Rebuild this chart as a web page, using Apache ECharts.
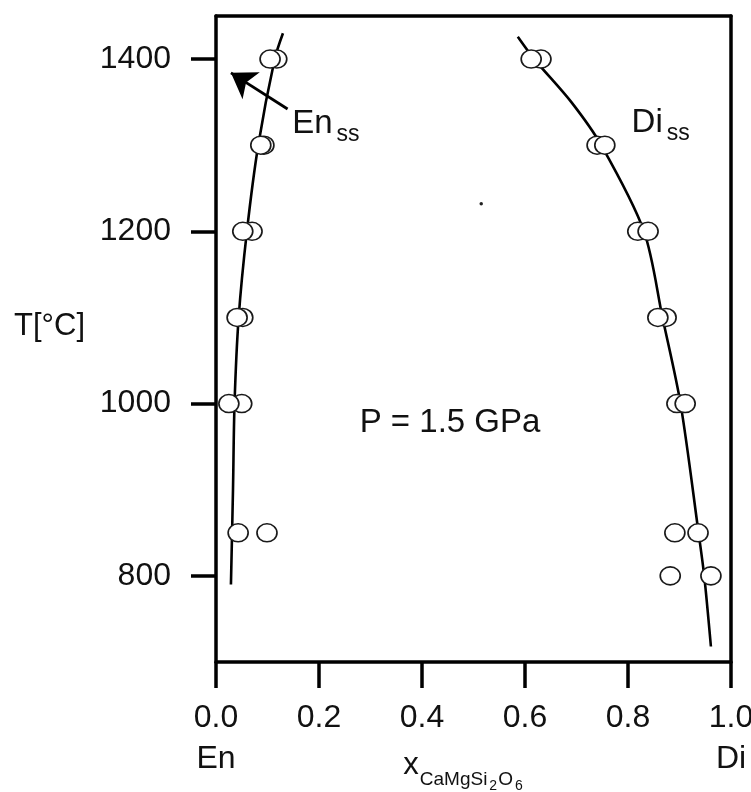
<!DOCTYPE html>
<html>
<head>
<meta charset="utf-8">
<title>En–Di solvus at 1.5 GPa</title>
<script src="https://cdn.jsdelivr.net/npm/echarts@6/dist/echarts.min.js"></script>
<style>
  html, body { margin: 0; padding: 0; background: #fff; }
  #chart { width: 751px; height: 792px; }
</style>
</head>
<body>
<div id="chart"></div>
<script>
// Axis ticks
const xTicks = [0, 0.2, 0.4, 0.6, 0.8, 1.0];
const yTicks = [800, 1000, 1200, 1400];

// Enstatite-rich pyroxene (Enss) compositions, two runs per temperature
const enTemps = [1400, 1300, 1200, 1100, 1000, 850];
const enXa = [0.118, 0.093, 0.070, 0.052, 0.050, 0.099];
const enXb = [0.105, 0.087, 0.052, 0.041, 0.025, 0.043];

// Diopside-rich pyroxene (Diss) compositions
const diTemps = [1400, 1300, 1200, 1100, 1000, 850, 800];
const diXa = [0.631, 0.740, 0.819, 0.874, 0.895, 0.891, 0.882];
const diXb = [0.612, 0.755, 0.839, 0.858, 0.911, 0.936, 0.961];

// Fitted solvus limbs
const enSolvusX = [0.130, 0.114, 0.082, 0.060, 0.044, 0.036, 0.033, 0.029];
const enSolvusT = [1430, 1400, 1300, 1200, 1100, 1000, 900, 790];
const diSolvusX = [0.586, 0.618, 0.690, 0.748, 0.831, 0.867, 0.902, 0.937, 0.948, 0.961];
const diSolvusT = [1426, 1400, 1350, 1300, 1200, 1100, 1000, 850, 800, 718];

// Small stray dot in the field
const strayDot = [[0.515, 1232]];

const FONT = '"Liberation Sans", Arial, Helvetica, sans-serif';
const INK = '#111';

const zip = (xs, ys) => xs.map((x, i) => [x, ys[i]]);

const enPoints = [];
enTemps.forEach((t, i) => { enPoints.push([enXa[i], t]); enPoints.push([enXb[i], t]); });
const diPoints = [];
diTemps.forEach((t, i) => { diPoints.push([diXa[i], t]); diPoints.push([diXb[i], t]); });

const circleStyle = { color: '#fff', borderColor: '#1a1a1a', borderWidth: 1.6, opacity: 1 };
const solvusStyle = { color: '#000', width: 2.6 };

const chart = echarts.init(document.getElementById('chart'), null, { renderer: 'canvas' });

chart.setOption({
  animation: false,
  backgroundColor: '#fff',
  grid: { left: 216, right: 20, top: 16, bottom: 130, outerBoundsMode: 'none', containLabel: false },
  xAxis: [
    {
      type: 'value', position: 'bottom', min: 0, max: 1, interval: 0.2,
      splitLine: { show: false },
      axisLine: { show: true, onZero: false, lineStyle: { color: '#000', width: 3.5 } },
      axisTick: { show: true, inside: false, length: 26, lineStyle: { color: '#000', width: 3.5 },
                  customValues: xTicks },
      axisLabel: {
        show: true, margin: 36, color: INK, fontFamily: FONT, fontSize: 32, lineHeight: 41,
        customValues: xTicks,
        formatter: v => {
          const s = v.toFixed(1);
          if (v === 0) return s + '\nEn';
          if (v === 1) return s + '\nDi';
          return s;
        }
      },
      name: '{x|x}{s|CaMgSi}{ss|2}{s|O}{ss|6}',
      nameLocation: 'middle',
      nameMoveOverlap: false,
      nameGap: 100,
      nameTextStyle: {
        padding: [0, 20, 0, 0],
        rich: {
          x: { fontFamily: FONT, fontSize: 31, lineHeight: 31, color: INK, verticalAlign: 'bottom', padding: [0, 1, 12, 0] },
          s: { fontFamily: FONT, fontSize: 19, lineHeight: 19, color: INK, verticalAlign: 'bottom', padding: [0, 0, 4, 0] },
          ss: { fontFamily: FONT, fontSize: 14, lineHeight: 14, color: INK, verticalAlign: 'bottom', padding: [0, 1, 0, 2] }
        }
      }
    },
    {
      type: 'value', position: 'top', min: 0, max: 1,
      splitLine: { show: false },
      axisLine: { show: true, onZero: false, lineStyle: { color: '#000', width: 3.5 } },
      axisTick: { show: false }, axisLabel: { show: false }
    }
  ],
  yAxis: [
    {
      type: 'value', position: 'left', min: 700, max: 1450,
      splitLine: { show: false },
      axisLine: { show: true, onZero: false, lineStyle: { color: '#000', width: 3.5 } },
      axisTick: { show: true, inside: false, length: 25, lineStyle: { color: '#000', width: 3.5 },
                  customValues: yTicks },
      axisLabel: { show: true, margin: 45, color: INK, fontFamily: FONT, fontSize: 32,
                   customValues: yTicks, formatter: v => String(v) },
      name: 'T[°C]',
      nameLocation: 'middle',
      nameMoveOverlap: false,
      nameRotate: 0,
      nameGap: 131,
      nameTextStyle: { fontFamily: FONT, fontSize: 31, lineHeight: 26, color: INK, verticalAlign: 'bottom' }
    },
    {
      type: 'value', position: 'right', min: 700, max: 1450,
      splitLine: { show: false },
      axisLine: { show: true, onZero: false, lineStyle: { color: '#000', width: 3.5 } },
      axisTick: { show: false }, axisLabel: { show: false }
    }
  ],
  series: [
    {
      name: 'En solvus', type: 'line', xAxisIndex: 0, yAxisIndex: 0,
      data: zip(enSolvusX, enSolvusT), smooth: 0.3, showSymbol: false, silent: true,
      lineStyle: solvusStyle, z: 2
    },
    {
      name: 'Di solvus', type: 'line', xAxisIndex: 0, yAxisIndex: 0,
      data: zip(diSolvusX, diSolvusT), smooth: 0.3, showSymbol: false, silent: true,
      lineStyle: solvusStyle, z: 2
    },
    {
      name: 'Enss', type: 'scatter', data: enPoints, symbol: 'circle', symbolSize: [20, 18],
      itemStyle: circleStyle, z: 4, silent: true
    },
    {
      name: 'Diss', type: 'scatter', data: diPoints, symbol: 'circle', symbolSize: [20, 18],
      itemStyle: circleStyle, z: 4, silent: true
    },
    {
      name: 'stray', type: 'scatter', data: strayDot, symbolSize: 3.5,
      itemStyle: { color: '#222', opacity: 1 }, z: 3, silent: true
    },
    {
      // arrow pointing to the Enss limb
      name: 'arrow', type: 'line', data: [], silent: true,
      markLine: {
        silent: true,
        symbol: ['none', 'arrow'],
        symbolSize: 24,
        label: { show: false },
        emphasis: { disabled: true },
        lineStyle: { color: '#000', width: 2.8, type: 'solid' },
        itemStyle: { color: '#000' },
        data: [[{ coord: [0.139, 1342] }, { coord: [0.029, 1384] }]]
      },
      z: 5
    },
    {
      name: 'labels', type: 'scatter', symbolSize: 0, silent: true, z: 6,
      itemStyle: { opacity: 1 },
      data: [
        { value: [0.148, 1318], name: 'En' },
        { value: [0.807, 1319], name: 'Di' },
        { value: [0.279, 978], name: 'P' }
      ],
      label: {
        show: true, position: 'right', distance: 0, opacity: 1,
        formatter: p => p.name === 'P' ? '{p|P = 1.5 GPa}' : '{m|' + p.name + '}{s|ss}',
        rich: {
          m: { fontFamily: FONT, fontSize: 33, lineHeight: 33, color: INK, verticalAlign: 'bottom', padding: [0, 4, 6, 0] },
          s: { fontFamily: FONT, fontSize: 23, lineHeight: 23, color: INK, verticalAlign: 'bottom' },
          p: { fontFamily: FONT, fontSize: 33, lineHeight: 33, color: INK }
        }
      }
    }
  ]
});
</script>
</body>
</html>
